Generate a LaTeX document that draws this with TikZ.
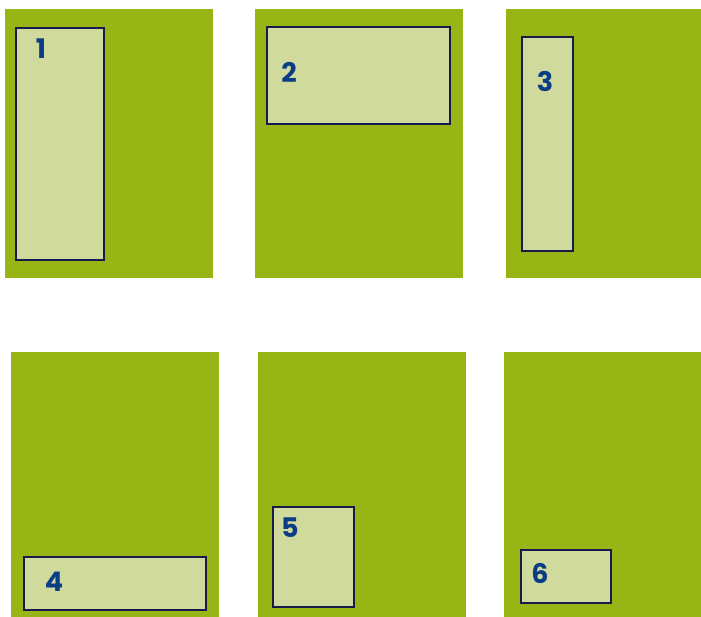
\documentclass[tikz,border=0pt]{standalone}
\usepackage{fontspec}
\setmainfont{Poppins}
\definecolor{pgreen}{HTML}{97B615}
\definecolor{plight}{HTML}{D0DA9C}
\definecolor{pborder}{HTML}{161B4C}
\definecolor{ptext}{HTML}{0A3D85}
\begin{document}
\begin{tikzpicture}[x=1pt,y=-1pt,
  panel/.style={fill=pgreen,draw=none,inner sep=0pt,outer sep=0pt,anchor=north west},
  zone/.style={fill=plight,draw=pborder,line width=2pt,inner sep=0pt,outer sep=0pt,anchor=north west},
  num/.style={text=ptext,font=\fontsize{27}{27}\selectfont\bfseries,inner sep=0pt}]
\useasboundingbox (0,0) rectangle (701,616);
\fill[white] (0,0) rectangle (701,616);
% panels
\node[panel,minimum width=208pt,minimum height=269pt] (p1) at (5,9) {};
\node[panel,minimum width=208pt,minimum height=269pt] (p2) at (255,9) {};
\node[panel,minimum width=196pt,minimum height=269pt] (p3) at (506,9) {};
\node[panel,minimum width=208pt,minimum height=265pt] (p4) at (11,352) {};
\node[panel,minimum width=208pt,minimum height=265pt] (p5) at (258,352) {};
\node[panel,minimum width=198pt,minimum height=265pt] (p6) at (504,352) {};
% inner zones
\node[zone,minimum width=88pt,minimum height=232pt] (z1) at (16,28) {};
\node[zone,minimum width=183pt,minimum height=97pt] (z2) at (267,27) {};
\node[zone,minimum width=51pt,minimum height=214pt] (z3) at (522,37) {};
\node[zone,minimum width=182pt,minimum height=53pt] (z4) at (24,557) {};
\node[zone,minimum width=81pt,minimum height=100pt] (z5) at (273,507) {};
\node[zone,minimum width=90pt,minimum height=53pt] (z6) at (521,550) {};
% labels
\node[num] (n1) at (41,49) {1};
\node[num] (n2) at (289,72) {2};
\node[num] (n3) at (545,81) {3};
\node[num] (n4) at (54,582) {4};
\node[num] (n5) at (290,528) {5};
\node[num] (n6) at (540,573) {6};
\end{tikzpicture}
\end{document}
